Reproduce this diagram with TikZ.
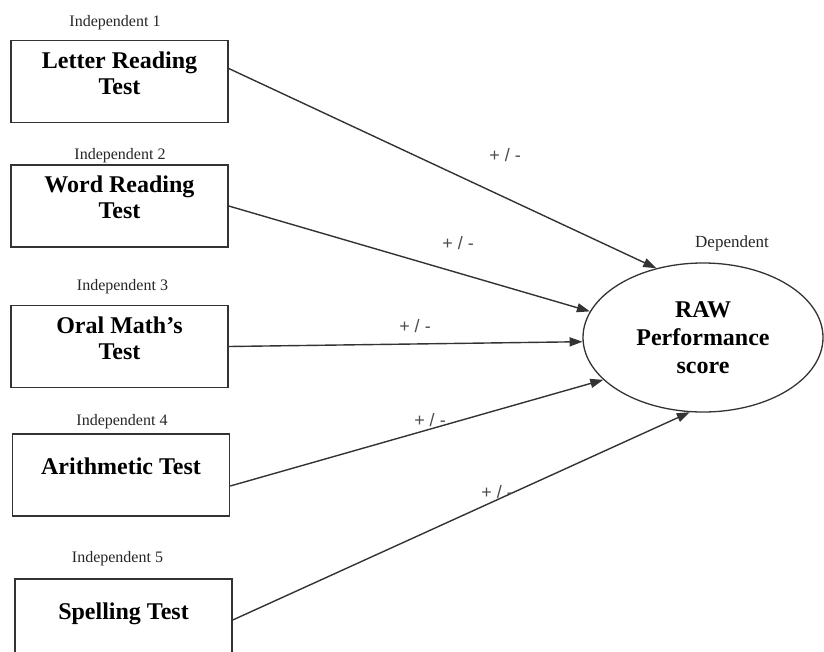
\documentclass[tikz,border=0pt]{standalone}
\usepackage{fontspec}
\setmainfont{Liberation Serif}
\newfontfamily\signfont{Liberation Sans}
\usetikzlibrary{shapes.geometric,arrows.meta}
\newcommand{\boxtext}[1]{\raisebox{-1pt}[0pt][0pt]{\begin{tabular}{@{}c@{}}#1\end{tabular}}}
\begin{document}
\begin{tikzpicture}
    [
    x=1pt, y=-1pt,
    test/.style={
      rectangle,
      draw=black!80,
      line width=1.5pt,
      minimum width=217pt,
      minimum height=82pt,
      inner sep=0pt,
      font=\fontsize{24}{26}\selectfont\bfseries
    },
    outcome/.style={
      ellipse,
      draw=black!80,
      line width=1.3pt,
      minimum width=240pt,
      minimum height=149pt,
      inner sep=0pt,
      align=center,
      font=\fontsize{24}{28}\selectfont\bfseries
    },
    tag/.style={
      font=\fontsize{16}{18}\selectfont,
      text=black!85
    },
    sign/.style={
      font=\signfont\fontsize{18}{20}\selectfont,
      text=black!70
    },
    link/.style={
      draw=black!80,
      line width=1.4pt,
      -{Triangle[length=13pt,width=9pt]}
    }]
    \useasboundingbox (0,0) rectangle (824,651);
    \clip (0,0) rectangle (824,651);
    % independent variables
    \node at (119.5,81.5) [test] (letter) {\boxtext{Letter Reading\\Test}};
    \node at (119.5,206) [test] (word) {\boxtext{Word Reading\\Test}};
    \node at (119.5,346.5) [test] (oral) {\boxtext{Oral Math's\\Test}};
    \node at (121,475) [test] (arith) {\boxtext{Arithmetic Test}};
    \node at (123.5,620) [test] (spell) {\boxtext{Spelling Test}};
    \node at (115,23) [tag] (ind1) {Independent 1};
    \node at (120,156) [tag] (ind2) {Independent 2};
    \node at (122.5,287) [tag] (ind3) {Independent 3};
    \node at (122,422) [tag] (ind4) {Independent 4};
    \node at (117.5,559) [tag] (ind5) {Independent 5};
    % dependent variable
    \node at (703,337.5) [outcome] (raw) {RAW\\Performance\\score};
    \node at (732,243) [tag, font=\fontsize{17}{19}\selectfont] (dep) {Dependent};
    % links
    \draw [link] ([yshift=13pt]letter.east) -- (raw.124);
    \draw [link] (word.east) -- (raw.167);
    \draw [link] (oral.east) -- (raw.182);
    \draw [link] ([yshift=-11pt]arith.east) -- (raw.203);
    \draw [link] (spell.east) -- (raw.260);
    \node at (505,155) [sign] (pm1) {+ / -};
    \node at (458,243) [sign] (pm2) {+ / -};
    \node at (415,326) [sign] (pm3) {+ / -};
    \node at (430,420) [sign] (pm4) {+ / -};
    \node at (497,492) [sign] (pm5) {+ / -};
  \end{tikzpicture}
\end{document}
